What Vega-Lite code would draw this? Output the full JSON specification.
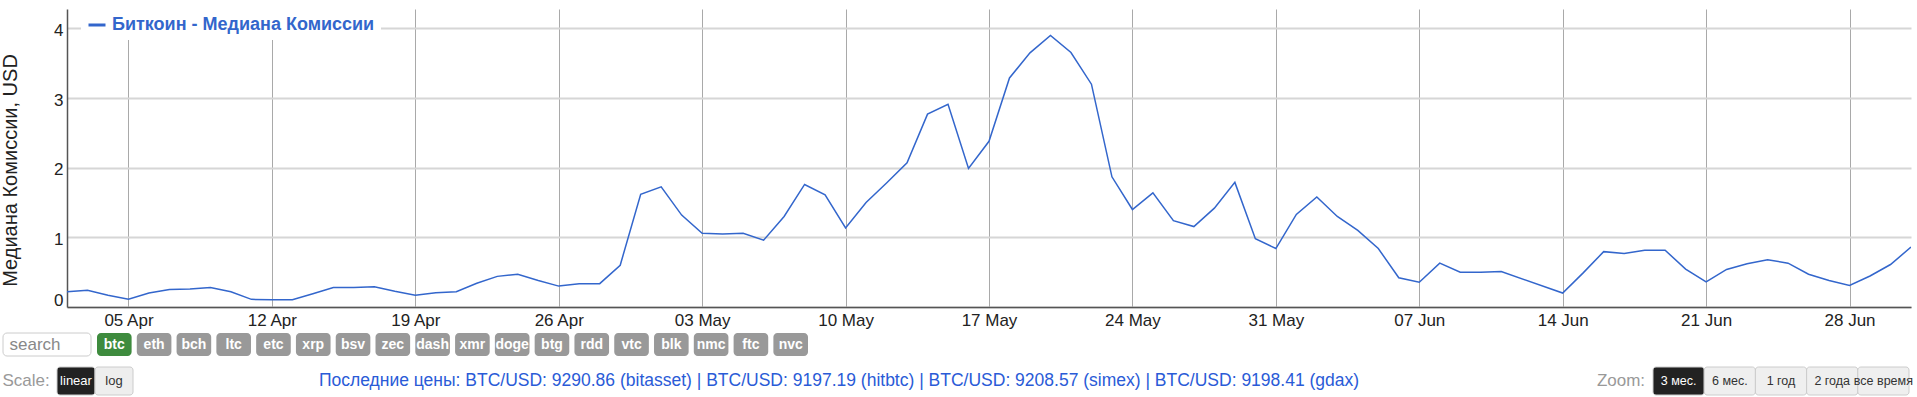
{
  "$schema": "https://vega.github.io/schema/vega-lite/v6.json",
  "padding": {"left": 0, "top": 9, "right": 0, "bottom": 0},
  "config": {
    "font": "Liberation Sans, Arial, sans-serif",
    "view": {"stroke": null}
  },
  "datasets": {
    "fees": [
      {"date": "2020-04-02", "fee": 0.22},
      {"date": "2020-04-03", "fee": 0.24},
      {"date": "2020-04-04", "fee": 0.17},
      {"date": "2020-04-05", "fee": 0.11},
      {"date": "2020-04-06", "fee": 0.20},
      {"date": "2020-04-07", "fee": 0.25},
      {"date": "2020-04-08", "fee": 0.26},
      {"date": "2020-04-09", "fee": 0.28},
      {"date": "2020-04-10", "fee": 0.22},
      {"date": "2020-04-11", "fee": 0.11},
      {"date": "2020-04-12", "fee": 0.105},
      {"date": "2020-04-13", "fee": 0.105},
      {"date": "2020-04-14", "fee": 0.19},
      {"date": "2020-04-15", "fee": 0.28},
      {"date": "2020-04-16", "fee": 0.28},
      {"date": "2020-04-17", "fee": 0.29},
      {"date": "2020-04-18", "fee": 0.225},
      {"date": "2020-04-19", "fee": 0.17},
      {"date": "2020-04-20", "fee": 0.205},
      {"date": "2020-04-21", "fee": 0.22},
      {"date": "2020-04-22", "fee": 0.34},
      {"date": "2020-04-23", "fee": 0.44},
      {"date": "2020-04-24", "fee": 0.47},
      {"date": "2020-04-25", "fee": 0.38},
      {"date": "2020-04-26", "fee": 0.30},
      {"date": "2020-04-27", "fee": 0.335},
      {"date": "2020-04-28", "fee": 0.335},
      {"date": "2020-04-29", "fee": 0.60},
      {"date": "2020-04-30", "fee": 1.62},
      {"date": "2020-05-01", "fee": 1.725},
      {"date": "2020-05-02", "fee": 1.32},
      {"date": "2020-05-03", "fee": 1.06},
      {"date": "2020-05-04", "fee": 1.05},
      {"date": "2020-05-05", "fee": 1.06},
      {"date": "2020-05-06", "fee": 0.96},
      {"date": "2020-05-07", "fee": 1.30},
      {"date": "2020-05-08", "fee": 1.76},
      {"date": "2020-05-09", "fee": 1.61},
      {"date": "2020-05-10", "fee": 1.135},
      {"date": "2020-05-11", "fee": 1.50},
      {"date": "2020-05-12", "fee": 1.78},
      {"date": "2020-05-13", "fee": 2.07},
      {"date": "2020-05-14", "fee": 2.77},
      {"date": "2020-05-15", "fee": 2.91},
      {"date": "2020-05-16", "fee": 1.99},
      {"date": "2020-05-17", "fee": 2.38},
      {"date": "2020-05-18", "fee": 3.29},
      {"date": "2020-05-19", "fee": 3.65},
      {"date": "2020-05-20", "fee": 3.90},
      {"date": "2020-05-21", "fee": 3.655},
      {"date": "2020-05-22", "fee": 3.20},
      {"date": "2020-05-23", "fee": 1.87},
      {"date": "2020-05-24", "fee": 1.40},
      {"date": "2020-05-25", "fee": 1.64},
      {"date": "2020-05-26", "fee": 1.24},
      {"date": "2020-05-27", "fee": 1.155},
      {"date": "2020-05-28", "fee": 1.42},
      {"date": "2020-05-29", "fee": 1.79},
      {"date": "2020-05-30", "fee": 0.98},
      {"date": "2020-05-31", "fee": 0.84},
      {"date": "2020-06-01", "fee": 1.33},
      {"date": "2020-06-02", "fee": 1.58},
      {"date": "2020-06-03", "fee": 1.30},
      {"date": "2020-06-04", "fee": 1.10},
      {"date": "2020-06-05", "fee": 0.84},
      {"date": "2020-06-06", "fee": 0.42},
      {"date": "2020-06-07", "fee": 0.355},
      {"date": "2020-06-08", "fee": 0.63},
      {"date": "2020-06-09", "fee": 0.50},
      {"date": "2020-06-10", "fee": 0.50},
      {"date": "2020-06-11", "fee": 0.51},
      {"date": "2020-06-14", "fee": 0.20},
      {"date": "2020-06-15", "fee": 0.49},
      {"date": "2020-06-16", "fee": 0.795},
      {"date": "2020-06-17", "fee": 0.77},
      {"date": "2020-06-18", "fee": 0.815},
      {"date": "2020-06-19", "fee": 0.815},
      {"date": "2020-06-20", "fee": 0.545},
      {"date": "2020-06-21", "fee": 0.36},
      {"date": "2020-06-22", "fee": 0.54},
      {"date": "2020-06-23", "fee": 0.62},
      {"date": "2020-06-24", "fee": 0.68},
      {"date": "2020-06-25", "fee": 0.63},
      {"date": "2020-06-26", "fee": 0.47},
      {"date": "2020-06-27", "fee": 0.38},
      {"date": "2020-06-28", "fee": 0.31},
      {"date": "2020-06-29", "fee": 0.445},
      {"date": "2020-06-30", "fee": 0.61},
      {"date": "2020-07-01", "fee": 0.86}
    ]
  },
  "spacing": 4,
  "vconcat": [
    {
      "spacing": 0,
      "hconcat": [
        {
          "width": 63,
          "height": 298,
          "data": {"name": "fees"},
          "mark": {"type": "point", "opacity": 0},
          "encoding": {
            "y": {
              "field": "fee", "type": "quantitative",
              "scale": {"domain": [0, 4.28], "nice": false},
              "axis": {
                "orient": "left", "offset": -64,
                "title": "Медиана Комиссии, USD", "values": [0, 1, 2, 3, 4], "format": "d",
                "grid": false, "domain": false, "ticks": false,
                "labelPadding": 4, "labelFontSize": 17, "labelColor": "#222222",
                "labelFlush": true, "labelOffset": 2,
                "titleFontSize": 20, "titleFontWeight": "normal", "titleColor": "#222222",
                "titleX": -47, "titleY": 161
              }
            }
          }
        },
        {
          "width": 1844,
          "height": 298,
          "data": {"name": "fees"},
          "mark": {"type": "line", "strokeWidth": 1.5, "clip": true},
          "encoding": {
            "x": {
              "field": "date", "type": "temporal",
              "scale": {"type": "utc", "nice": false},
              "axis": {
                "title": null, "format": "%d %b",
                "tickCount": {"interval": "week", "step": 1},
                "grid": true, "gridColor": "#a9a9a9", "gridWidth": 1,
                "ticks": false, "labelPadding": 5, "labelFontSize": 17, "labelColor": "#222222",
                "domainColor": "#555555", "domainWidth": 1.5
              }
            },
            "y": {
              "field": "fee", "type": "quantitative",
              "scale": {"domain": [0, 4.28], "nice": false},
              "axis": {
                "title": null, "values": [0, 1, 2, 3, 4], "labels": false,
                "grid": true, "gridColor": "#d6d6d6", "gridWidth": 2,
                "ticks": false, "domainColor": "#555555", "domainWidth": 1.5
              }
            },
            "color": {
              "datum": "Биткоин - Медиана Комиссии",
              "scale": {"range": ["#3366cc"]},
              "legend": {
                "title": null, "orient": "none", "legendX": 78, "legendY": 0,
                "fillColor": "white", "padding": 6,
                "symbolType": "stroke", "symbolSize": 289, "symbolStrokeWidth": 3,
                "labelOffset": 5, "labelFontSize": 18, "labelFontWeight": "bold",
                "labelColor": "#3366cc", "labelLimit": 400
              }
            }
          }
        }
      ]
    },
    {
      "spacing": 9,
      "vconcat": [
        {
          "spacing": 5,
          "hconcat": [
            {
              "width": 88, "height": 23,
              "data": {"values": [{"label": "search"}]},
              "layer": [
                {
                  "mark": {"type": "rect", "fill": "white", "stroke": "#cccccc", "strokeWidth": 1, "cornerRadius": 4},
                  "encoding": {"x": {"field": "label", "type": "nominal", "axis": null, "scale": {"paddingInner": 0, "paddingOuter": 0}}}
                },
                {
                  "mark": {"type": "text", "fontSize": 17, "color": "#888888", "dx": -12},
                  "encoding": {"x": {"field": "label", "type": "nominal", "axis": null}, "text": {"field": "label"}}
                }
              ]
            },
            {
              "width": 711, "height": 23,
              "data": {"values": [
                {"label": "btc"}, {"label": "eth"}, {"label": "bch"}, {"label": "ltc"}, {"label": "etc"},
                {"label": "xrp"}, {"label": "bsv"}, {"label": "zec"}, {"label": "dash"}, {"label": "xmr"},
                {"label": "doge"}, {"label": "btg"}, {"label": "rdd"}, {"label": "vtc"}, {"label": "blk"},
                {"label": "nmc"}, {"label": "ftc"}, {"label": "nvc"}
              ]},
              "layer": [
                {
                  "mark": {"type": "rect", "cornerRadius": 4},
                  "encoding": {
                    "x": {"field": "label", "type": "nominal", "sort": null, "axis": null, "scale": {"paddingInner": 0.13, "paddingOuter": 0}},
                    "color": {"condition": {"test": "datum.label === 'btc'", "value": "#3e8b3e"}, "value": "#999999"}
                  }
                },
                {
                  "mark": {"type": "text", "fontSize": 14, "fontWeight": "bold", "color": "white"},
                  "encoding": {"x": {"field": "label", "type": "nominal", "sort": null, "axis": null}, "text": {"field": "label"}}
                }
              ]
            }
          ]
        },
        {
          "spacing": 6,
          "hconcat": [
            {
              "width": 46, "height": 28,
              "data": {"values": [{"label": "Scale:"}]},
              "mark": {"type": "text", "fontSize": 17, "color": "#999999"},
              "encoding": {"x": {"field": "label", "type": "nominal", "axis": null}, "text": {"field": "label"}}
            },
            {
              "width": 76, "height": 28,
              "data": {"values": [{"label": "linear"}, {"label": "log"}]},
              "layer": [
                {
                  "mark": {"type": "rect", "cornerRadius": 3, "stroke": "#cccccc", "strokeWidth": 1},
                  "encoding": {
                    "x": {"field": "label", "type": "nominal", "sort": null, "axis": null, "scale": {"paddingInner": 0, "paddingOuter": 0}},
                    "color": {"condition": {"test": "datum.label === 'linear'", "value": "#222222"}, "value": "#eeeeee"}
                  }
                },
                {
                  "mark": {"type": "text", "fontSize": 13},
                  "encoding": {
                    "x": {"field": "label", "type": "nominal", "sort": null, "axis": null},
                    "text": {"field": "label"},
                    "color": {"condition": {"test": "datum.label === 'linear'", "value": "#ffffff"}, "value": "#333333"}
                  }
                }
              ]
            },
            {
              "width": 1450, "height": 28,
              "data": {"values": [{"label": "Последние цены: BTC/USD: 9290.86 (bitasset) | BTC/USD: 9197.19 (hitbtc) | BTC/USD: 9208.57 (simex) | BTC/USD: 9198.41 (gdax)"}]},
              "mark": {"type": "text", "fontSize": 17.5, "color": "#2a5bd7", "dx": -26},
              "encoding": {
                "x": {"field": "label", "type": "nominal", "axis": null},
                "text": {"field": "label"}
              }
            },
            {
              "width": 48, "height": 28,
              "data": {"values": [{"label": "Zoom:"}]},
              "mark": {"type": "text", "fontSize": 17, "color": "#999999"},
              "encoding": {"x": {"field": "label", "type": "nominal", "axis": null}, "text": {"field": "label"}}
            },
            {
              "width": 256, "height": 28,
              "data": {"values": [
                {"label": "3 мес."}, {"label": "6 мес."}, {"label": "1 год"}, {"label": "2 года"}, {"label": "все время"}
              ]},
              "layer": [
                {
                  "mark": {"type": "rect", "cornerRadius": 3, "stroke": "#cccccc", "strokeWidth": 1},
                  "encoding": {
                    "x": {"field": "label", "type": "nominal", "sort": null, "axis": null, "scale": {"paddingInner": 0, "paddingOuter": 0}},
                    "color": {"condition": {"test": "datum.label === '3 мес.'", "value": "#222222"}, "value": "#efefef"}
                  }
                },
                {
                  "mark": {"type": "text", "fontSize": 12.5},
                  "encoding": {
                    "x": {"field": "label", "type": "nominal", "sort": null, "axis": null},
                    "text": {"field": "label"},
                    "color": {"condition": {"test": "datum.label === '3 мес.'", "value": "#ffffff"}, "value": "#333333"}
                  }
                }
              ]
            }
          ]
        }
      ]
    }
  ]
}
